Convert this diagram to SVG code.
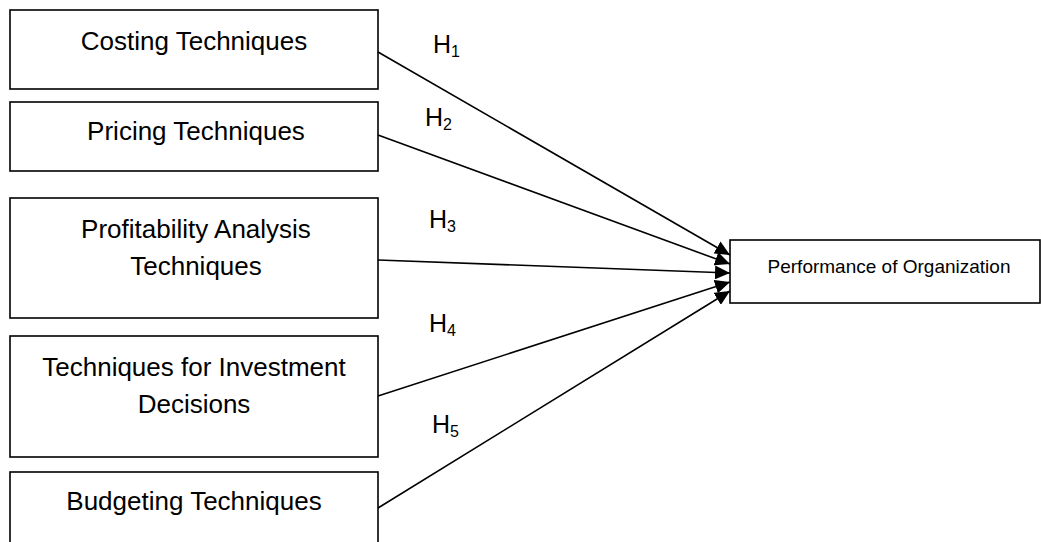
<svg xmlns="http://www.w3.org/2000/svg" width="1041" height="542" viewBox="0 0 1041 542">
<style>
.box{fill:#fff;stroke:#000;stroke-width:1.6}
.t{font-family:"Liberation Sans",Arial,sans-serif;font-size:26px;fill:#000;text-anchor:middle}
.ts{font-family:"Liberation Sans",Arial,sans-serif;font-size:19px;fill:#000;text-anchor:middle}
.h{font-family:"Liberation Sans",Arial,sans-serif;font-size:25px;fill:#000}
.sub{font-size:16px}
.c{stroke:#000;stroke-width:1.6;fill:none;marker-end:url(#ah)}
</style>
<defs>
<marker id="ah" markerUnits="userSpaceOnUse" markerWidth="16" markerHeight="14" refX="15" refY="7" orient="auto">
<path d="M0,0 L15,7 L0,14 Z" fill="#000"/>
</marker>
</defs>
<rect width="1041" height="542" fill="#fff"/>
<g id="n1"><rect class="box" x="10" y="10" width="368" height="79"/><text class="t" x="194" y="50">Costing Techniques</text></g>
<g id="n2"><rect class="box" x="10" y="102" width="368" height="69"/><text class="t" x="196" y="140">Pricing Techniques</text></g>
<g id="n3"><rect class="box" x="10" y="198" width="368" height="120"/><text class="t" x="196" y="238">Profitability Analysis</text><text class="t" x="196" y="275">Techniques</text></g>
<g id="n4"><rect class="box" x="10" y="336" width="368" height="121"/><text class="t" x="194" y="376">Techniques for Investment</text><text class="t" x="194" y="413">Decisions</text></g>
<g id="n5"><rect class="box" x="10" y="472" width="368" height="90"/><text class="t" x="194" y="510">Budgeting Techniques</text></g>
<g id="n6"><rect class="box" x="730" y="240" width="310" height="63"/><text class="ts" x="889" y="273">Performance of Organization</text></g>
<g id="connectors">
<line class="c" x1="378" y1="52" x2="730" y2="255"/>
<line class="c" x1="378" y1="135" x2="730" y2="264"/>
<line class="c" x1="378" y1="260" x2="730" y2="273"/>
<line class="c" x1="378" y1="396" x2="730" y2="282"/>
<line class="c" x1="378" y1="508" x2="730" y2="291"/>
</g>
<g id="labels">
<text class="h" x="433" y="53">H<tspan class="sub" dy="4">1</tspan></text>
<text class="h" x="425" y="126">H<tspan class="sub" dy="4">2</tspan></text>
<text class="h" x="429" y="228">H<tspan class="sub" dy="4">3</tspan></text>
<text class="h" x="429" y="332">H<tspan class="sub" dy="4">4</tspan></text>
<text class="h" x="432" y="433">H<tspan class="sub" dy="4">5</tspan></text>
</g>
</svg>
